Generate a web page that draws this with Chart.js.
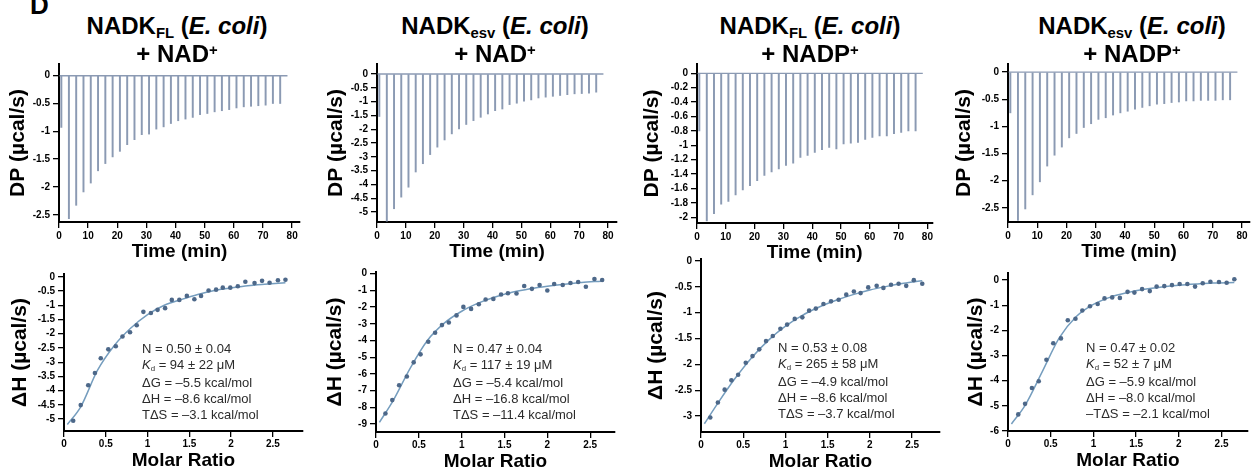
<!DOCTYPE html>
<html>
<head>
<meta charset="utf-8">
<script src="https://cdn.jsdelivr.net/npm/chart.js@4"></script>
<style>
  body { margin: 0; background: #fff; width: 1252px; height: 476px; position: relative; overflow: hidden;
         font-family: "Liberation Sans", Arial, sans-serif; }
  canvas { position: absolute; }
  .ttl { position: absolute; font-weight: bold; font-size: 24px; line-height: 24px; white-space: nowrap;
         transform: translateX(-50%); color: #000; }
  .sub { font-size: 0.62em; position: relative; top: 0.3em; }
  .sup { font-size: 0.62em; position: relative; top: -0.45em; }
  .note { position: absolute; font-size: 13px; line-height: 16px; color: #2b2b2b; white-space: nowrap; }
  .note .d { font-size: 0.6em; position: relative; top: 0.3em; }
  .lbl { position: absolute; left: 30px; top: -8px; font-weight: bold; font-size: 26px; line-height: 26px; }
</style>
</head>
<body>
<div class="lbl">D</div>
<script>
// injection times (min), shared by the four thermograms
const injTimes = [0.8, 3.4, 5.9, 8.4, 10.9, 13.4, 15.9, 18.4, 20.9, 23.4, 25.9, 28.4, 30.9, 33.4, 35.9,
  38.4, 40.9, 43.4, 45.9, 48.4, 50.9, 53.4, 55.9, 58.4, 60.9, 63.4, 65.9, 68.4, 70.9, 73.4, 75.9];

// peak heights of each injection (µcal/s)
const dpFlNad = [-0.93, -2.57, -2.33, -2.09, -1.93, -1.71, -1.58, -1.46, -1.36, -1.24, -1.15, -1.06, -1.05, -0.96,
  -0.92, -0.86, -0.81, -0.78, -0.75, -0.70, -0.68, -0.65, -0.63, -0.61, -0.58, -0.56, -0.55, -0.54, -0.53, -0.50, -0.50];
const dpEsvNad = [-1.54, -5.33, -4.88, -4.46, -4.10, -3.55, -3.25, -2.92, -2.65, -2.39, -2.17, -1.99, -1.83, -1.69,
  -1.57, -1.45, -1.33, -1.27, -1.11, -1.06, -0.99, -0.94, -0.87, -0.84, -0.81, -0.78, -0.75, -0.72, -0.71, -0.70, -0.66];
const dpFlNadp = [-0.80, -2.05, -1.95, -1.82, -1.78, -1.69, -1.62, -1.56, -1.49, -1.42, -1.37, -1.33, -1.28, -1.25,
  -1.17, -1.14, -1.10, -1.06, -1.03, -1.05, -0.98, -0.97, -0.96, -0.92, -0.89, -0.87, -0.87, -0.84, -0.82, -0.80, -0.80];
const dpEsvNadp = [-0.75, -2.73, -2.52, -2.26, -2.02, -1.73, -1.53, -1.38, -1.21, -1.13, -1.02, -0.95, -0.87, -0.84,
  -0.79, -0.75, -0.72, -0.68, -0.65, -0.62, -0.59, -0.58, -0.56, -0.55, -0.53, -0.53, -0.52, -0.52, -0.52, -0.51, -0.51];

// integrated heats vs molar ratio
const mrFlNad = [0.11, 0.20, 0.29, 0.37, 0.44, 0.53, 0.62, 0.70, 0.79, 0.87, 0.95, 1.04, 1.12, 1.21, 1.29,
  1.38, 1.47, 1.56, 1.64, 1.73, 1.82, 1.90, 1.99, 2.08, 2.17, 2.28, 2.37, 2.46, 2.56, 2.65];
const dhFlNad = [-5.06, -4.51, -3.81, -3.38, -2.86, -2.55, -2.44, -2.10, -1.95, -1.70, -1.23, -1.27, -1.16, -1.10, -0.81,
  -0.81, -0.67, -0.79, -0.67, -0.48, -0.45, -0.38, -0.38, -0.33, -0.17, -0.22, -0.14, -0.21, -0.12, -0.10];
const mrEsvNad = [0.11, 0.19, 0.27, 0.36, 0.44, 0.52, 0.61, 0.69, 0.77, 0.85, 0.94, 1.02, 1.11, 1.20, 1.28,
  1.37, 1.46, 1.54, 1.64, 1.73, 1.82, 1.91, 2.00, 2.08, 2.18, 2.27, 2.36, 2.45, 2.55, 2.64];
const dhEsvNad = [-8.37, -7.57, -6.68, -6.16, -5.31, -4.83, -4.08, -3.54, -3.08, -2.92, -2.50, -1.99, -2.11, -1.83, -1.55,
  -1.51, -1.25, -1.17, -1.19, -0.74, -0.91, -0.68, -1.01, -0.62, -0.68, -0.56, -0.50, -0.78, -0.32, -0.38];
const mrFlNadp = [0.11, 0.20, 0.28, 0.36, 0.44, 0.53, 0.61, 0.69, 0.77, 0.85, 0.94, 1.02, 1.11, 1.20, 1.28,
  1.36, 1.45, 1.54, 1.63, 1.72, 1.81, 1.89, 1.98, 2.08, 2.16, 2.25, 2.34, 2.43, 2.52, 2.62];
const dhFlNadp = [-3.03, -2.74, -2.49, -2.31, -2.20, -1.97, -1.84, -1.71, -1.55, -1.45, -1.31, -1.23, -1.12, -1.09, -0.96,
  -0.92, -0.83, -0.78, -0.75, -0.65, -0.59, -0.62, -0.51, -0.48, -0.52, -0.46, -0.44, -0.48, -0.37, -0.44];
const mrEsvNadp = [0.12, 0.20, 0.28, 0.36, 0.45, 0.53, 0.62, 0.70, 0.79, 0.87, 0.96, 1.05, 1.13, 1.22, 1.31,
  1.40, 1.48, 1.57, 1.66, 1.74, 1.83, 1.92, 2.01, 2.10, 2.19, 2.28, 2.37, 2.47, 2.56, 2.65];
const dhEsvNadp = [-5.34, -4.92, -4.29, -4.02, -3.17, -2.51, -2.32, -1.60, -1.54, -1.21, -1.04, -0.95, -0.73, -0.69, -0.71,
  -0.47, -0.50, -0.36, -0.44, -0.26, -0.24, -0.20, -0.16, -0.16, -0.26, -0.13, -0.07, -0.08, -0.11, 0.03];

// fitted binding curves
const fitXFlNad = [0.04, 0.2, 0.4, 0.6, 0.8, 1.0, 1.2, 1.4, 1.6, 1.8, 2.0, 2.2, 2.4, 2.65];
const fitYFlNad = [-5.19, -4.57, -3.29, -2.42, -1.8, -1.33, -1.0, -0.8, -0.62, -0.48, -0.39, -0.31, -0.26, -0.21];
const fitXEsvNad = [0.04, 0.2, 0.4, 0.6, 0.8, 1.0, 1.2, 1.4, 1.6, 1.8, 2.0, 2.2, 2.4, 2.63];
const fitYEsvNad = [-8.9, -7.6, -5.65, -4.0, -2.95, -2.25, -1.75, -1.38, -1.1, -0.9, -0.75, -0.63, -0.53, -0.45];
const fitXFlNadp = [0.04, 0.2, 0.4, 0.6, 0.8, 1.0, 1.2, 1.4, 1.6, 1.8, 2.0, 2.2, 2.4, 2.62];
const fitYFlNadp = [-3.15, -2.75, -2.28, -1.87, -1.53, -1.26, -1.05, -0.89, -0.76, -0.65, -0.56, -0.49, -0.43, -0.38];
const fitXEsvNadp = [0.04, 0.2, 0.4, 0.6, 0.8, 1.0, 1.2, 1.4, 1.6, 1.8, 2.0, 2.2, 2.4, 2.65];
const fitYEsvNadp = [-5.72, -4.98, -3.65, -2.3, -1.45, -0.97, -0.68, -0.5, -0.37, -0.28, -0.21, -0.16, -0.12, -0.1];

// fit results printed in each panel
const statsFlNad = ['N = 0.50 ± 0.04', 'Kd = 94 ± 22 μM', 'ΔG = –5.5 kcal/mol', 'ΔH = –8.6 kcal/mol', 'TΔS = –3.1 kcal/mol'];
const statsEsvNad = ['N = 0.47 ± 0.04', 'Kd = 117 ± 19 μM', 'ΔG = –5.4 kcal/mol', 'ΔH = –16.8 kcal/mol', 'TΔS = –11.4 kcal/mol'];
const statsFlNadp = ['N = 0.53 ± 0.08', 'Kd = 265 ± 58 μM', 'ΔG = –4.9 kcal/mol', 'ΔH = –8.6 kcal/mol', 'TΔS = –3.7 kcal/mol'];
const statsEsvNadp = ['N = 0.47 ± 0.02', 'Kd = 52 ± 7 μM', 'ΔG = –5.9 kcal/mol', 'ΔH = –8.0 kcal/mol', '–TΔS = –2.1 kcal/mol'];

const titles = [
  ['NADK<span class="sub">FL</span> (<i>E. coli</i>)', '+ NAD<span class="sup">+</span>'],
  ['NADK<span class="sub">esv</span> (<i>E. coli</i>)', '+ NAD<span class="sup">+</span>'],
  ['NADK<span class="sub">FL</span> (<i>E. coli</i>)', '+ NADP<span class="sup">+</span>'],
  ['NADK<span class="sub">esv</span> (<i>E. coli</i>)', '+ NADP<span class="sup">+</span>']
];

const FONT = '"Liberation Sans", Arial, sans-serif';
const SPIKE = '#8b9ab3';
const DOT = '#4d6889';
const CURVE = '#759dbe';

const fmt = v => String(Math.round(v * 100) / 100);

function makeCanvas(p) {
  const c = document.createElement('canvas');
  const left = p.L - p.yW, top = p.T - 8;
  const w = p.R - left + 2, h = p.B + p.xH - top;
  c.width = w; c.height = h;
  c.style.left = left + 'px'; c.style.top = top + 'px';
  c.style.width = w + 'px'; c.style.height = h + 'px';
  document.body.appendChild(c);
  return c;
}

function scales(p, xTitle, yTitle) {
  const tickFont = { family: FONT, size: 10, weight: 'bold' };
  const grid = { display: true, drawOnChartArea: false, drawTicks: true, tickLength: 6, color: '#000', lineWidth: 1.3, offset: false };
  const border = { display: true, color: '#000', width: 2 };
  return {
    x: {
      type: 'linear', min: 0, max: p.xMax, offset: false, grid, border,
      ticks: { stepSize: p.xStep, includeBounds: false, color: '#000', font: tickFont, padding: p.xPad,
               maxRotation: 0, autoSkip: false, callback: fmt },
      title: { display: true, text: xTitle, color: '#000', font: { family: FONT, size: 19, weight: 'bold' }, padding: 0 },
      afterFit: s => { s.height = p.xH; }
    },
    y: {
      type: 'linear', min: p.yMin, max: p.yMax, grid, border,
      ticks: { stepSize: p.yStep, includeBounds: false, color: '#000', font: tickFont, padding: 3,
               autoSkip: false, callback: fmt },
      title: { display: true, text: yTitle, color: '#000', font: { family: FONT, size: 21, weight: 'bold' }, padding: 0 },
      afterFit: s => { s.width = p.yW; }
    }
  };
}

const common = {
  responsive: false, animation: false, devicePixelRatio: 1,
  layout: { padding: { top: 8, right: 2, left: 0, bottom: 0 } },
  plugins: { legend: { display: false }, tooltip: { enabled: false } }
};

// thermograms (top row)
const topPanels = [
  { L: 59, T: 63, R: 300, B: 222, xMax: 82.7, yMin: -2.63, yMax: 0.21, yStep: 0.5, yOff: 40, dp: dpFlNad },
  { L: 377, T: 63, R: 617, B: 222, xMax: 83.1, yMin: -5.36, yMax: 0.36, yStep: 0.5, yOff: 40, dp: dpEsvNad },
  { L: 697, T: 63, R: 933, B: 223, xMax: 81.7, yMin: -2.08, yMax: 0.13, yStep: 0.2, yOff: 44, dp: dpFlNadp },
  { L: 1008, T: 63, R: 1250, B: 222, xMax: 82.7, yMin: -2.76, yMax: 0.15, yStep: 0.5, yOff: 43, dp: dpEsvNadp }
];
topPanels.forEach(p => {
  p.yW = p.yOff + 13; p.xH = 41; p.xStep = 10; p.xPad = 2;
  new Chart(makeCanvas(p), {
    type: 'bar',
    data: {
      datasets: [
        { type: 'line', data: [{ x: 0.2, y: 0 }, { x: 78.4, y: 0 }], borderColor: SPIKE, borderWidth: 1.4, pointRadius: 0 },
        { data: injTimes.map((t, i) => ({ x: t, y: [0, p.dp[i]] })), backgroundColor: SPIKE,
          borderWidth: 0, barThickness: 1.3, grouped: false }
      ]
    },
    options: { ...common, scales: scales(p, 'Time (min)', 'DP (µcal/s)') }
  });
});

// binding isotherms (bottom row)
const botPanels = [
  { L: 64, T: 273, R: 305, B: 431, xMax: 2.86, yMin: -5.42, yMax: 0.1, yStep: 0.5, yOff: 43,
    mr: mrFlNad, dh: dhFlNad, fx: fitXFlNad, fy: fitYFlNad, stats: statsFlNad, nx: 142, ny: 341 },
  { L: 376, T: 271, R: 617, B: 432, xMax: 2.79, yMin: -9.48, yMax: 0.1, yStep: 1, yOff: 40,
    mr: mrEsvNad, dh: dhEsvNad, fx: fitXEsvNad, fy: fitYEsvNad, stats: statsEsvNad, nx: 453, ny: 341 },
  { L: 701, T: 258, R: 942, B: 432, xMax: 2.83, yMin: -3.31, yMax: 0.04, yStep: 0.5, yOff: 44,
    mr: mrFlNadp, dh: dhFlNadp, fx: fitXFlNadp, fy: fitYFlNadp, stats: statsFlNadp, nx: 778, ny: 340 },
  { L: 1008, T: 272, R: 1250, B: 431, xMax: 2.81, yMin: -6, yMax: 0.28, yStep: 1, yOff: 31,
    mr: mrEsvNadp, dh: dhEsvNadp, fx: fitXEsvNadp, fy: fitYEsvNadp, stats: statsEsvNadp, nx: 1086, ny: 340 }
];
botPanels.forEach(p => {
  p.yW = p.yOff + 13; p.xH = 41; p.xStep = 0.5; p.xPad = 1;
  new Chart(makeCanvas(p), {
    type: 'scatter',
    data: {
      datasets: [
        { data: p.mr.map((x, i) => ({ x, y: p.dh[i] })), pointRadius: 2.3, backgroundColor: DOT, borderWidth: 0 },
        { data: p.fx.map((x, i) => ({ x, y: p.fy[i] })), showLine: true, pointRadius: 0, borderColor: CURVE,
          borderWidth: 1.5, cubicInterpolationMode: 'monotone' }
      ]
    },
    options: { ...common, scales: scales(p, 'Molar Ratio', 'ΔH (µcal/s)') }
  });
  const n = document.createElement('div');
  n.className = 'note';
  n.style.left = p.nx + 'px'; n.style.top = p.ny + 'px';
  n.innerHTML = p.stats.map(s => s.replace(/^Kd/, '<i>K</i><span class="d">d</span>')).join('<br>');
  document.body.appendChild(n);
});

// column headers
const centers = [177, 495, 810, 1132];
titles.forEach((t, i) => {
  t.forEach((line, j) => {
    const d = document.createElement('div');
    d.className = 'ttl';
    d.style.left = centers[i] + 'px';
    d.style.top = (j === 0 ? 14 : 42) + 'px';
    d.innerHTML = line;
    document.body.appendChild(d);
  });
});
</script>
</body>
</html>
